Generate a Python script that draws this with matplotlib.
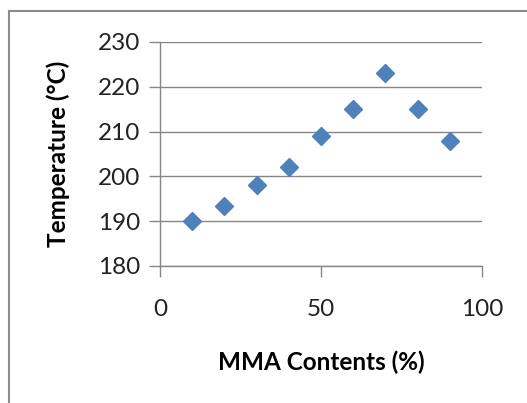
import matplotlib.pyplot as plt
from matplotlib.patches import Rectangle

# data
mma_content = [10, 20, 30, 40, 50, 60, 70, 80, 90]
temperature = [190, 193.5, 198, 202, 209, 215, 223, 215, 208]
x_ticks = [0, 50, 100]
y_ticks = [180, 190, 200, 210, 220, 230]

plt.rcParams['font.family'] = ['Lato', 'DejaVu Sans']

fig = plt.figure(figsize=(5.27, 4.03), dpi=100)
W, H = 527, 403
ax = fig.add_axes([160 / W, 1 - 266 / H, (482 - 160) / W, (266 - 42) / H])

ax.plot(mma_content, temperature, linestyle='none', marker='D',
        markersize=8.8, color='#4F81BD', clip_on=False, zorder=3)

ax.set_xlim(0, 100)
ax.set_ylim(180, 230)
ax.set_xticks(x_ticks)
ax.set_yticks(y_ticks)

gray = '#868686'
ax.grid(axis='y', color=gray, linewidth=1)
for side in ['top', 'right']:
    ax.spines[side].set_visible(False)
for side in ['left', 'bottom']:
    ax.spines[side].set_color(gray)
    ax.spines[side].set_linewidth(1)
ax.tick_params(axis='y', direction='out', length=8, color=gray, width=1,
               labelsize=17.5, pad=6, labelcolor='#222222')
ax.tick_params(axis='x', direction='out', length=8, color=gray, width=1,
               labelsize=17.5, pad=16, labelcolor='#222222')

ax.set_xlabel('MMA Contents (%)', fontsize=17.5, fontweight='bold', labelpad=22)
ax.set_ylabel('Temperature (\u00b0C)', fontsize=17.5, fontweight='bold', labelpad=20)

# chart area frame
fig.patches.append(Rectangle((9 / W, -0.1), 1.2, 1 - 11 / H + 0.1,
                             transform=fig.transFigure, fill=False,
                             edgecolor='#8c8c8c', linewidth=1.5))

fig.savefig('out.png', dpi=100, facecolor='white')
